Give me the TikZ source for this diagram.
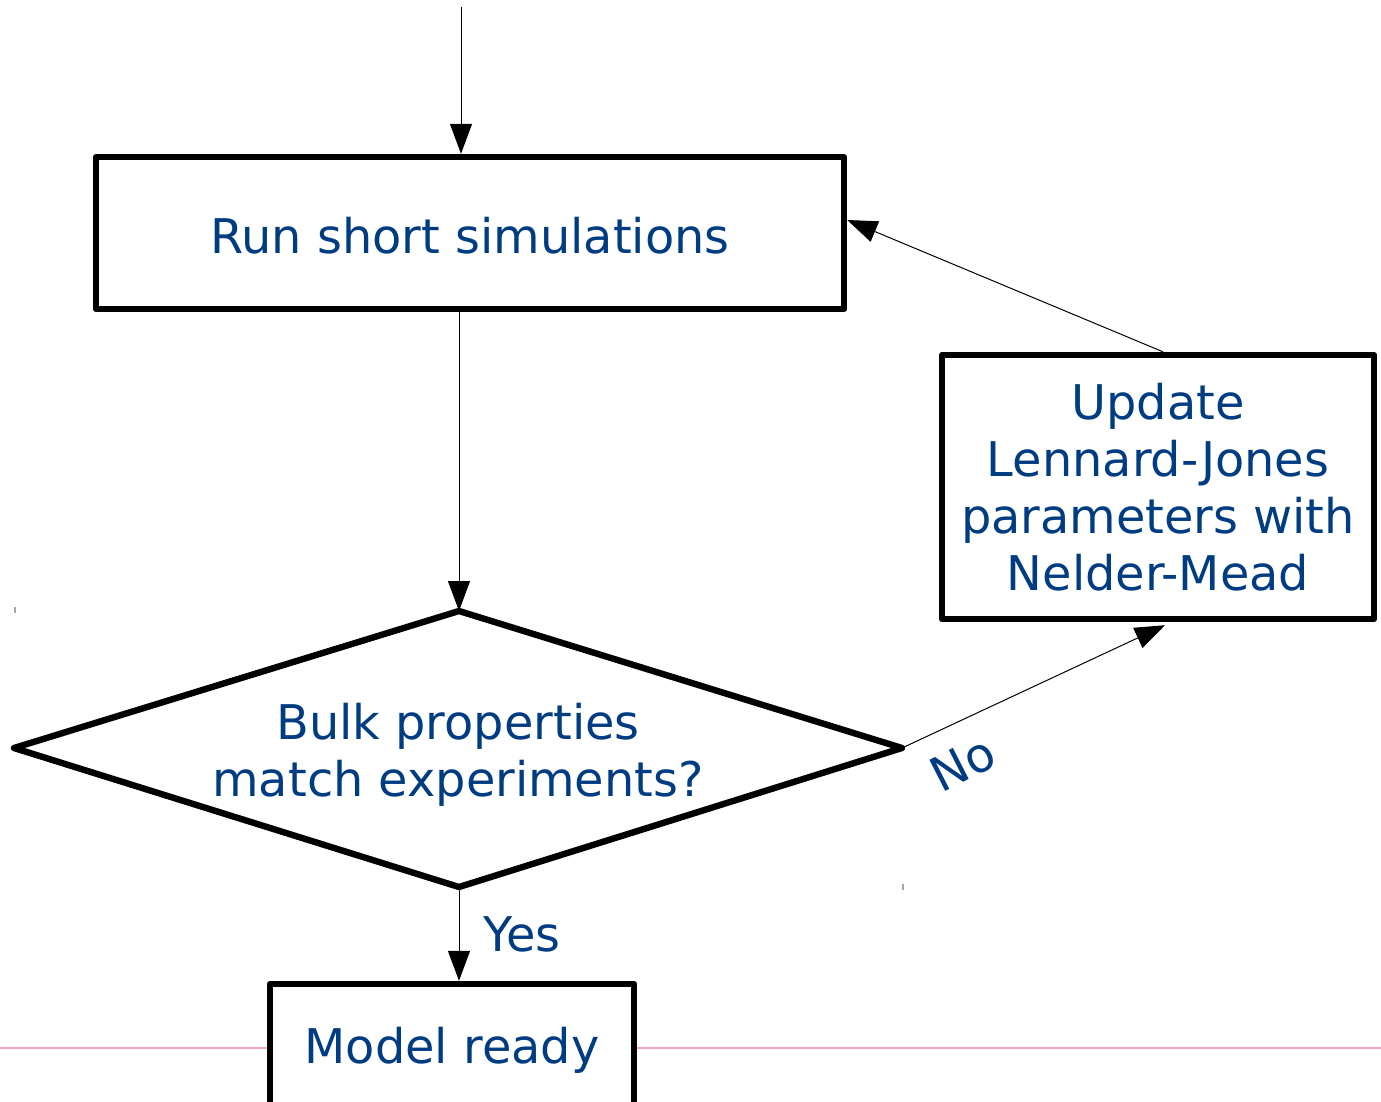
\documentclass[tikz,border=0pt]{standalone}
\usepackage{fontspec}
\setmainfont{DejaVu Sans}
\usetikzlibrary{arrows.meta}
\definecolor{txtblue}{HTML}{003C82}
\definecolor{pinkline}{HTML}{F2A3B6}
\tikzset{
  boxnode/.style={draw=black, line width=3.2pt, line join=round, fill=white, rectangle, inner sep=0pt, font=\fontsize{23.9}{28.5}\selectfont, text=txtblue, align=center},
  lbl/.style={font=\fontsize{23.9}{28.5}\selectfont, text=txtblue, inner sep=0pt},
  arr/.style={-{Triangle[length=15pt,width=11pt]}, line width=0.5pt, black},
  tick/.style={draw=gray!70, line width=1pt}
}
\begin{document}
\begin{tikzpicture}[x=0.5pt,y=-0.5pt]
\useasboundingbox (0,0) rectangle (1381,1102);
\clip (0,0) rectangle (1381,1102);
\fill[white] (0,0) rectangle (1381,1102);
% pink guide line
\coordinate (pl) at (0,1048);
\coordinate (pr) at (1381,1048);
\draw[pinkline, line width=0.6pt] (pl) -- (pr);
% nodes
\node[boxnode, minimum width=374pt, minimum height=76pt] (run) at (470,233) {\raisebox{-1.5pt}[\height][\depth]{Run short simulations}};
\node[boxnode, minimum width=216pt, minimum height=132pt] (upd) at (1158,487) {Update\\Lennard-Jones\\parameters with\\Nelder-Mead};
\node[boxnode, minimum width=182pt, minimum height=62pt] (model) at (452,1046) {\raisebox{-2pt}[\height][\depth]{Model ready}};
% diamond
\coordinate (dT) at (459,611);
\coordinate (dR) at (902,748);
\coordinate (dB) at (459,887);
\coordinate (dL) at (14,748);
\draw[line width=3.2pt, line join=round] (dT) -- (dR) -- (dB) -- (dL) -- cycle;
\node[lbl, align=center] (dq) at (458,755) {Bulk properties\\match experiments?};
% connectors
\coordinate (start) at (461,7);
\draw[arr] (start) -- (start |- run.north);
\draw[arr] (dT |- run.south) -- (dT);
\draw[arr] (dR) -- ([xshift=3.5pt,yshift=-1.5pt]upd.south);
\draw[arr] ([xshift=2.5pt]upd.north) -- ([yshift=6.5pt]run.east);
\draw[arr] (dB) -- (dB |- model.north);
% labels
\node[lbl] (yes) at (522,934) {Yes};
\node[lbl, rotate=27] (no) at (963,764) {No};
% small tick marks
\coordinate (t1a) at (15,607); \coordinate (t1b) at (15,613);
\coordinate (t2a) at (903,884); \coordinate (t2b) at (903,890);
\draw[tick] (t1a) -- (t1b);
\draw[tick] (t2a) -- (t2b);
\end{tikzpicture}
\end{document}
